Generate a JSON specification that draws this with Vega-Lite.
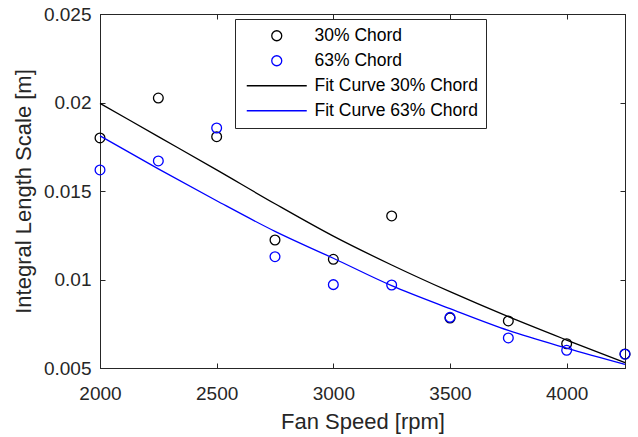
{
  "$schema": "https://vega.github.io/schema/vega-lite/v6.json",
  "width": 525,
  "height": 354,
  "autosize": {"type": "none"},
  "padding": {"left": 100, "top": 14, "right": 13, "bottom": 69},
  "background": "white",
  "config": {
    "font": "Liberation Sans",
    "view": {"stroke": "#262626", "strokeWidth": 1},
    "axis": {
      "domainColor": "#262626",
      "tickColor": "#262626",
      "labelColor": "#262626",
      "titleColor": "#262626",
      "grid": false,
      "tickSize": -5,
      "labelFlush": false,
      "labelFontSize": 19,
      "titleFontSize": 22,
      "titleFontWeight": "normal",
      "labelFont": "Liberation Sans",
      "titleFont": "Liberation Sans"
    }
  },
  "datasets": {
    "points": [
      {"rpm": 2000, "series": "30% Chord", "value": 0.0180},
      {"rpm": 2250, "series": "30% Chord", "value": 0.02025},
      {"rpm": 2500, "series": "30% Chord", "value": 0.01807},
      {"rpm": 2750, "series": "30% Chord", "value": 0.01223},
      {"rpm": 3000, "series": "30% Chord", "value": 0.01114},
      {"rpm": 3250, "series": "30% Chord", "value": 0.01359},
      {"rpm": 3500, "series": "30% Chord", "value": 0.00782},
      {"rpm": 3750, "series": "30% Chord", "value": 0.00766},
      {"rpm": 4000, "series": "30% Chord", "value": 0.00637},
      {"rpm": 4250, "series": "30% Chord", "value": 0.00579},
      {"rpm": 2000, "series": "63% Chord", "value": 0.01619},
      {"rpm": 2250, "series": "63% Chord", "value": 0.0167},
      {"rpm": 2500, "series": "63% Chord", "value": 0.01856},
      {"rpm": 2750, "series": "63% Chord", "value": 0.01129},
      {"rpm": 3000, "series": "63% Chord", "value": 0.00971},
      {"rpm": 3250, "series": "63% Chord", "value": 0.00969},
      {"rpm": 3500, "series": "63% Chord", "value": 0.00786},
      {"rpm": 3750, "series": "63% Chord", "value": 0.0067},
      {"rpm": 4000, "series": "63% Chord", "value": 0.0060},
      {"rpm": 4250, "series": "63% Chord", "value": 0.00578}
    ],
    "fits": [
      {"rpm": 2000, "series": "Fit Curve 30% Chord", "value": 0.01995},
      {"rpm": 2250, "series": "Fit Curve 30% Chord", "value": 0.01807},
      {"rpm": 2500, "series": "Fit Curve 30% Chord", "value": 0.01619},
      {"rpm": 2750, "series": "Fit Curve 30% Chord", "value": 0.01428},
      {"rpm": 3000, "series": "Fit Curve 30% Chord", "value": 0.01245},
      {"rpm": 3250, "series": "Fit Curve 30% Chord", "value": 0.01082},
      {"rpm": 3500, "series": "Fit Curve 30% Chord", "value": 0.00931},
      {"rpm": 3750, "series": "Fit Curve 30% Chord", "value": 0.0079},
      {"rpm": 4000, "series": "Fit Curve 30% Chord", "value": 0.00658},
      {"rpm": 4250, "series": "Fit Curve 30% Chord", "value": 0.0053},
      {"rpm": 2000, "series": "Fit Curve 63% Chord", "value": 0.01812},
      {"rpm": 2250, "series": "Fit Curve 63% Chord", "value": 0.01625},
      {"rpm": 2500, "series": "Fit Curve 63% Chord", "value": 0.01445},
      {"rpm": 2750, "series": "Fit Curve 63% Chord", "value": 0.01272},
      {"rpm": 3000, "series": "Fit Curve 63% Chord", "value": 0.0112},
      {"rpm": 3250, "series": "Fit Curve 63% Chord", "value": 0.00965},
      {"rpm": 3500, "series": "Fit Curve 63% Chord", "value": 0.00835},
      {"rpm": 3750, "series": "Fit Curve 63% Chord", "value": 0.00712},
      {"rpm": 4000, "series": "Fit Curve 63% Chord", "value": 0.00612},
      {"rpm": 4250, "series": "Fit Curve 63% Chord", "value": 0.0052}
    ]
  },
  "layer": [
    {
      "data": {"name": "points"},
      "mark": {"type": "point", "filled": false, "size": 95, "strokeWidth": 1.3, "opacity": 1},
      "encoding": {
        "x": {
          "field": "rpm", "type": "quantitative",
          "scale": {"domain": [2000, 4250], "nice": false, "zero": false},
          "axis": {"orient": "bottom", "values": [2000, 2500, 3000, 3500, 4000], "format": "d", "title": "Fan Speed [rpm]", "labelPadding": 21, "titlePadding": 8}
        },
        "y": {
          "field": "value", "type": "quantitative",
          "scale": {"domain": [0.005, 0.025], "nice": false, "zero": false},
          "axis": {"orient": "left", "values": [0.005, 0.01, 0.015, 0.02, 0.025], "format": "~g", "title": "Integral Length Scale [m]", "labelPadding": 14, "titlePadding": 8}
        },
        "color": {
          "field": "series", "type": "nominal",
          "scale": {
            "domain": ["30% Chord", "63% Chord", "Fit Curve 30% Chord", "Fit Curve 63% Chord"],
            "range": ["#000000", "#0000ff", "#000000", "#0000ff"]
          },
          "legend": {
            "title": null, "orient": "none", "legendX": 135, "legendY": 5,
            "padding": 8, "rowPadding": 6, "labelFontSize": 17.5, "labelColor": "#000000", "labelLimit": 400,
            "labelFont": "Liberation Sans", "symbolSize": 100, "symbolStrokeWidth": 1.3,
            "symbolOffset": 25, "labelOffset": 29, "strokeColor": "#262626", "fillColor": "#ffffff"
          }
        },
        "shape": {
          "field": "series", "type": "nominal",
          "scale": {
            "domain": ["30% Chord", "63% Chord", "Fit Curve 30% Chord", "Fit Curve 63% Chord"],
            "range": ["circle", "circle", "M-6,0L6,0", "M-6,0L6,0"]
          },
          "legend": {
            "title": null, "orient": "none", "legendX": 135, "legendY": 5,
            "padding": 8, "rowPadding": 6, "labelFontSize": 17.5, "labelColor": "#000000", "labelLimit": 400,
            "labelFont": "Liberation Sans", "symbolSize": 100, "symbolStrokeWidth": 1.3,
            "symbolOffset": 25, "labelOffset": 29, "strokeColor": "#262626", "fillColor": "#ffffff"
          }
        }
      }
    },
    {
      "data": {"name": "fits"},
      "mark": {"type": "line", "strokeWidth": 1.3, "interpolate": "monotone"},
      "encoding": {
        "x": {
          "field": "rpm", "type": "quantitative",
          "axis": {"orient": "top", "values": [2000, 2500, 3000, 3500, 4000], "labels": false, "title": null}
        },
        "y": {
          "field": "value", "type": "quantitative",
          "axis": {"orient": "right", "values": [0.005, 0.01, 0.015, 0.02, 0.025], "labels": false, "title": null}
        },
        "color": {
          "field": "series", "type": "nominal",
          "legend": {
            "title": null, "orient": "none", "legendX": 135, "legendY": 5,
            "padding": 8, "rowPadding": 6, "labelFontSize": 17.5, "labelColor": "#000000", "labelLimit": 400,
            "labelFont": "Liberation Sans", "symbolSize": 100, "symbolStrokeWidth": 1.3,
            "symbolOffset": 25, "labelOffset": 29, "strokeColor": "#262626", "fillColor": "#ffffff"
          }
        }
      }
    }
  ],
  "resolve": {"axis": {"x": "independent", "y": "independent"}}
}
